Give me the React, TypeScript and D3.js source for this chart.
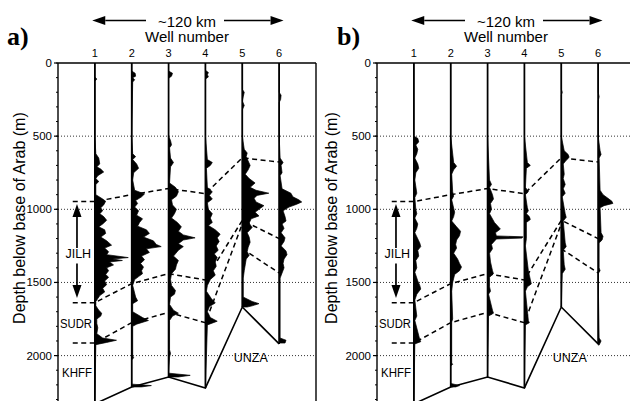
import React from 'react';
import * as d3 from 'd3';

// ---- data ----
const WELLS = [1, 2, 3, 4, 5, 6];
const DEPTH_TICKS = [0, 500, 1000, 1500, 2000];
const MINOR_TICKS = d3.range(0, 2500, 100);
// total depth of each well (m)
const TD = [2330, 2214, 2146, 2221, 1668, 1920];

// correlation lines: [well position, depth]
const TOP_JILH = [[0.4, 947], [1, 947], [2, 900], [3, 858], [4, 893], [5, 648], [6, 677]];
const BASE_JILH = [[0.4, 1638], [1, 1638], [2, 1508], [3, 1440], [4, 1483], [5, 1075], [6, 1200]];
const BASE_SUDR = [[0.4, 1914], [1, 1914], [2, 1775], [3, 1705], [4, 1775], [5, 1100]];
const BASE_SUDR_E = [[5, 1270], [6, 1435]];

// log traces: [depth, response] per well
const LOGS_A = [
  [[0,0],[95,0],[110,8],[125,0],[500,0],[620,4],[650,16],[690,20],[710,8],[725,24],[745,36],[770,12],[790,4],[810,16],[830,4],[900,4],[930,32],[945,44],[970,36],[990,24],[1010,32],[1030,20],[1050,36],[1075,48],[1100,32],[1120,16],[1140,40],[1165,44],[1190,24],[1215,48],[1245,68],[1265,40],[1290,56],[1310,48],[1330,136],[1340,72],[1350,112],[1360,60],[1380,76],[1400,48],[1420,56],[1445,44],[1465,56],[1490,40],[1515,48],[1540,32],[1565,40],[1590,20],[1610,12],[1630,4],[1660,4],[1690,16],[1710,28],[1730,24],[1750,8],[1780,8],[1810,12],[1850,8],[1880,32],[1895,88],[1910,48],[1925,4],[2330,0]],
  [[0,0],[55,0],[70,14],[90,16],[100,4],[115,12],[130,4],[500,0],[620,4],[640,16],[660,4],[690,20],[720,28],[750,8],[800,4],[870,12],[895,52],[915,40],[940,16],[960,24],[985,12],[1010,28],[1040,20],[1065,44],[1090,32],[1115,24],[1140,60],[1165,72],[1190,48],[1215,88],[1240,100],[1255,120],[1270,60],[1295,72],[1320,40],[1345,52],[1370,36],[1395,48],[1420,40],[1440,44],[1460,28],[1480,12],[1520,4],[1600,16],[1625,24],[1645,4],[1700,4],[1740,44],[1760,68],[1785,20],[1800,4],[2000,4],[2015,8],[2030,0],[2195,0],[2205,80],[2214,40]],
  [[0,0],[55,0],[70,16],[90,12],[105,0],[500,0],[530,8],[560,12],[580,4],[650,8],[680,20],[710,8],[820,4],[850,28],[880,40],[910,32],[935,12],[970,16],[1000,32],[1030,24],[1060,12],[1090,36],[1120,52],[1150,40],[1175,60],[1195,108],[1210,60],[1235,40],[1255,60],[1280,40],[1320,20],[1350,40],[1380,32],[1410,28],[1440,12],[1480,8],[1520,12],[1555,28],[1580,24],[1600,8],[1650,4],[1690,20],[1710,40],[1730,16],[1760,4],[1960,4],[1985,8],[2010,4],[2120,0],[2135,88],[2146,40]],
  [[0,0],[50,0],[65,12],[80,8],[95,12],[110,0],[500,0],[660,8],[680,28],[700,20],[720,4],[850,8],[880,28],[905,16],[930,28],[955,8],[1000,12],[1030,28],[1060,20],[1090,28],[1110,12],[1140,40],[1170,60],[1195,48],[1220,56],[1250,44],[1280,52],[1305,36],[1330,48],[1360,40],[1390,44],[1420,32],[1450,40],[1480,20],[1520,8],[1560,4],[1610,24],[1640,40],[1665,16],[1700,8],[1740,20],[1765,48],[1790,8],[2221,0]],
  [[0,0],[180,0],[200,8],[230,4],[260,0],[290,8],[320,0],[500,0],[590,8],[615,20],[640,16],[670,24],[700,32],[730,24],[760,12],[790,28],[820,52],[850,32],[870,56],[890,108],[905,60],[925,48],[950,56],[975,88],[995,72],[1020,52],[1045,68],[1065,36],[1095,28],[1125,40],[1160,20],[1190,28],[1225,32],[1260,24],[1290,20],[1315,28],[1340,16],[1380,12],[1420,8],[1470,4],[1600,4],[1630,40],[1645,68],[1660,40],[1668,20]],
  [[0,0],[200,0],[220,8],[250,6],[270,0],[500,0],[650,4],[680,16],[700,8],[750,12],[770,4],[860,12],[890,48],[915,56],[935,80],[950,92],[965,72],[985,40],[1010,16],[1050,24],[1080,28],[1100,12],[1130,20],[1160,8],[1195,24],[1220,20],[1250,8],[1285,28],[1310,32],[1340,20],[1370,16],[1400,20],[1435,12],[1470,4],[1880,4],[1895,28],[1914,24]],
];

const LOGS_B = [
  [[0,0],[500,0],[515,16],[540,20],[560,8],[590,16],[620,12],[650,4],[690,16],[720,20],[750,8],[800,4],[890,12],[920,4],[1000,8],[1030,12],[1060,4],[1100,16],[1130,12],[1160,4],[1230,24],[1255,28],[1280,16],[1320,20],[1350,8],[1400,12],[1430,4],[1490,16],[1520,24],[1545,28],[1580,12],[1620,4],[1730,12],[1760,4],[1890,24],[1905,28],[1920,4],[2330,0]],
  [[0,0],[500,0],[680,12],[705,24],[730,12],[760,4],[880,8],[910,12],[935,4],[1020,16],[1050,12],[1080,4],[1120,24],[1150,40],[1180,36],[1210,24],[1240,20],[1265,24],[1300,12],[1340,28],[1370,36],[1395,44],[1420,36],[1445,16],[1500,8],[1560,4],[1750,8],[1770,4],[2050,4],[2060,8],[2070,0],[2190,0],[2205,36],[2214,20]],
  [[0,0],[500,0],[800,8],[830,16],[850,8],[900,20],[930,24],[960,12],[1000,16],[1030,8],[1090,28],[1120,44],[1135,52],[1160,32],[1182,36],[1188,144],[1197,140],[1203,36],[1240,16],[1270,20],[1300,8],[1360,12],[1420,20],[1440,24],[1465,8],[1530,8],[1560,12],[1580,4],[1690,20],[1710,24],[1730,4],[2146,0]],
  [[0,0],[500,0],[680,12],[700,24],[720,8],[850,4],[880,16],[900,4],[990,12],[1010,16],[1030,8],[1050,20],[1070,24],[1090,8],[1200,8],[1250,4],[1420,16],[1450,20],[1480,24],[1510,28],[1530,12],[1560,4],[1760,16],[1775,20],[1790,4],[2221,0]],
  [[0,0],[180,0],[200,4],[220,0],[500,0],[600,12],[625,28],[645,32],[665,20],[690,8],[760,12],[790,8],[830,16],[860,8],[890,16],[915,4],[1030,16],[1055,20],[1080,8],[1230,16],[1255,20],[1280,8],[1380,12],[1410,16],[1440,4],[1668,0]],
  [[0,0],[200,0],[230,4],[260,0],[500,0],[600,8],[625,12],[650,4],[870,8],[900,20],[925,40],[945,56],[960,60],[975,24],[990,8],[1160,12],[1185,20],[1210,16],[1230,4],[1400,4],[1420,8],[1440,0],[1880,4],[1900,12],[1928,4]],
];

const W = 630;
const H = 401;
const SANS = 'Liberation Sans, Arial, sans-serif';

const y = d3.scaleLinear().domain([0, 2500]).range([63, 63 + 2500 * 0.1463]);

function Arrow({ x1, y1, x2, y2 }) {
  // filled arrowhead at (x2,y2)
  const a = Math.atan2(y2 - y1, x2 - x1);
  const L = 13, Wd = 4.5;
  const bx = x2 - L * Math.cos(a), by = y2 - L * Math.sin(a);
  const p = [
    [x2, y2],
    [bx + Wd * Math.sin(a), by - Wd * Math.cos(a)],
    [bx - Wd * Math.sin(a), by + Wd * Math.cos(a)],
  ];
  return (
    <g>
      <line x1={x1} y1={y1} x2={bx} y2={by} stroke="black" strokeWidth={1.7} />
      <polygon points={p.map(d => d.join(',')).join(' ')} fill="black" />
    </g>
  );
}

function Panel({ left, tag, tagX, yLabelX, logs }) {
  const x = d3.scaleLinear().domain([0, 7]).range([left, left + 258]);
  const spacing = x(1) - x(0);
  const amp = d3.scaleLinear().domain([0, 150]).range([0, spacing]);
  const right = x(7);
  const bottom = y(2500);

  const dashed = d3.line().x(d => x(d[0])).y(d => y(d[1]));
  const tdLine = d3.line().x((d, i) => x(i + 1)).y(d => y(d));

  const cx = x(3.5);
  const arrowX = x(0.515);

  return (
    <g>
      {/* panel tag and header */}
      <text x={tagX} y={45} fontFamily="Liberation Serif, Times New Roman, serif" fontWeight="bold" fontSize={26}>{tag}</text>
      <Arrow x1={cx - 41} y1={20.5} x2={x(0.93)} y2={20.5} />
      <Arrow x1={cx + 37} y1={20.5} x2={x(6.12)} y2={20.5} />
      <text x={cx} y={26.5} textAnchor="middle" fontFamily={SANS} fontSize={15}>~120 km</text>
      <text x={cx} y={42} textAnchor="middle" fontFamily={SANS} fontSize={15}>Well number</text>
      {WELLS.map(w => (
        <text key={w} x={x(w)} y={57} textAnchor="middle" fontFamily={SANS} fontSize={11}>{w}</text>
      ))}

      {/* gridlines */}
      {DEPTH_TICKS.filter(d => d > 0).map(d => (
        <line key={d} x1={left} x2={right} y1={y(d)} y2={y(d)} stroke="#333" strokeWidth={1} strokeDasharray="1,2" />
      ))}

      {/* frame */}
      <line x1={left} x2={right} y1={y(0)} y2={y(0)} stroke="black" strokeWidth={1.4} />
      <line x1={left} x2={left} y1={y(0)} y2={bottom} stroke="black" strokeWidth={1.4} />
      <line x1={right} x2={right} y1={y(0)} y2={bottom} stroke="black" strokeWidth={1.4} />

      {/* y axis */}
      {MINOR_TICKS.map(d => (
        <line key={'m' + d} x1={left - 2} x2={left} y1={y(d)} y2={y(d)} stroke="black" strokeWidth={1} />
      ))}
      {DEPTH_TICKS.map(d => (
        <g key={d}>
          <line x1={left - 4} x2={left} y1={y(d)} y2={y(d)} stroke="black" strokeWidth={1.2} />
          <text x={left - 6} y={y(d) + 4} textAnchor="end" fontFamily={SANS} fontSize={11.5}>{d}</text>
        </g>
      ))}
      <text transform={`translate(${yLabelX},${y(1060)}) rotate(-90)`} textAnchor="middle" fontFamily={SANS} fontSize={16}>
        Depth below base of Arab (m)
      </text>

      {/* well logs */}
      {logs.map((log, i) => {
        const wx = x(i + 1);
        const area = d3.area().y(d => y(d[0])).x0(wx).x1(d => wx + amp(d[1]));
        return <path key={i} d={area(log)} fill="black" stroke="black" strokeWidth={0.7} strokeLinejoin="round" />;
      })}
      {TD.map((td, i) => (
        <line key={i} x1={x(i + 1)} x2={x(i + 1)} y1={y(0)} y2={y(td)} stroke="black" strokeWidth={1.7} />
      ))}

      {/* well bottoms */}
      <path d={tdLine(TD)} fill="none" stroke="black" strokeWidth={1.6} />

      {/* correlation lines */}
      {[TOP_JILH, BASE_JILH, BASE_SUDR, BASE_SUDR_E].map((c, i) => (
        <path key={i} d={dashed(c)} fill="none" stroke="black" strokeWidth={1.5} strokeDasharray="5,3.5" />
      ))}

      {/* formation labels */}
      <Arrow x1={arrowX} y1={y(1265)} x2={arrowX} y2={y(964)} />
      <Arrow x1={arrowX} y1={y(1370)} x2={arrowX} y2={y(1606)} />
      <text x={x(0.55)} y={y(1335)} textAnchor="middle" fontFamily={SANS} fontSize={12.5}>JILH</text>
      <text x={left + 2} y={y(1810)} fontFamily={SANS} fontSize={12} textLength={32} lengthAdjust="spacingAndGlyphs">SUDR</text>
      <text x={left + 4} y={y(2145)} fontFamily={SANS} fontSize={12} textLength={30} lengthAdjust="spacingAndGlyphs">KHFF</text>
      <text x={x(4.77)} y={y(2043)} fontFamily={SANS} fontSize={12.5}>UNZA</text>
    </g>
  );
}

export default function App() {
  return (
    <div style={{ position: 'absolute', left: 0, top: 0 }}>
      <svg width={W} height={H} style={{ display: 'block', background: 'white' }}>
        <Panel left={58} tag="a)" tagX={7} yLabelX={25} logs={LOGS_A} />
        <Panel left={377} tag="b)" tagX={337} yLabelX={337} logs={LOGS_B} />
      </svg>
    </div>
  );
}
